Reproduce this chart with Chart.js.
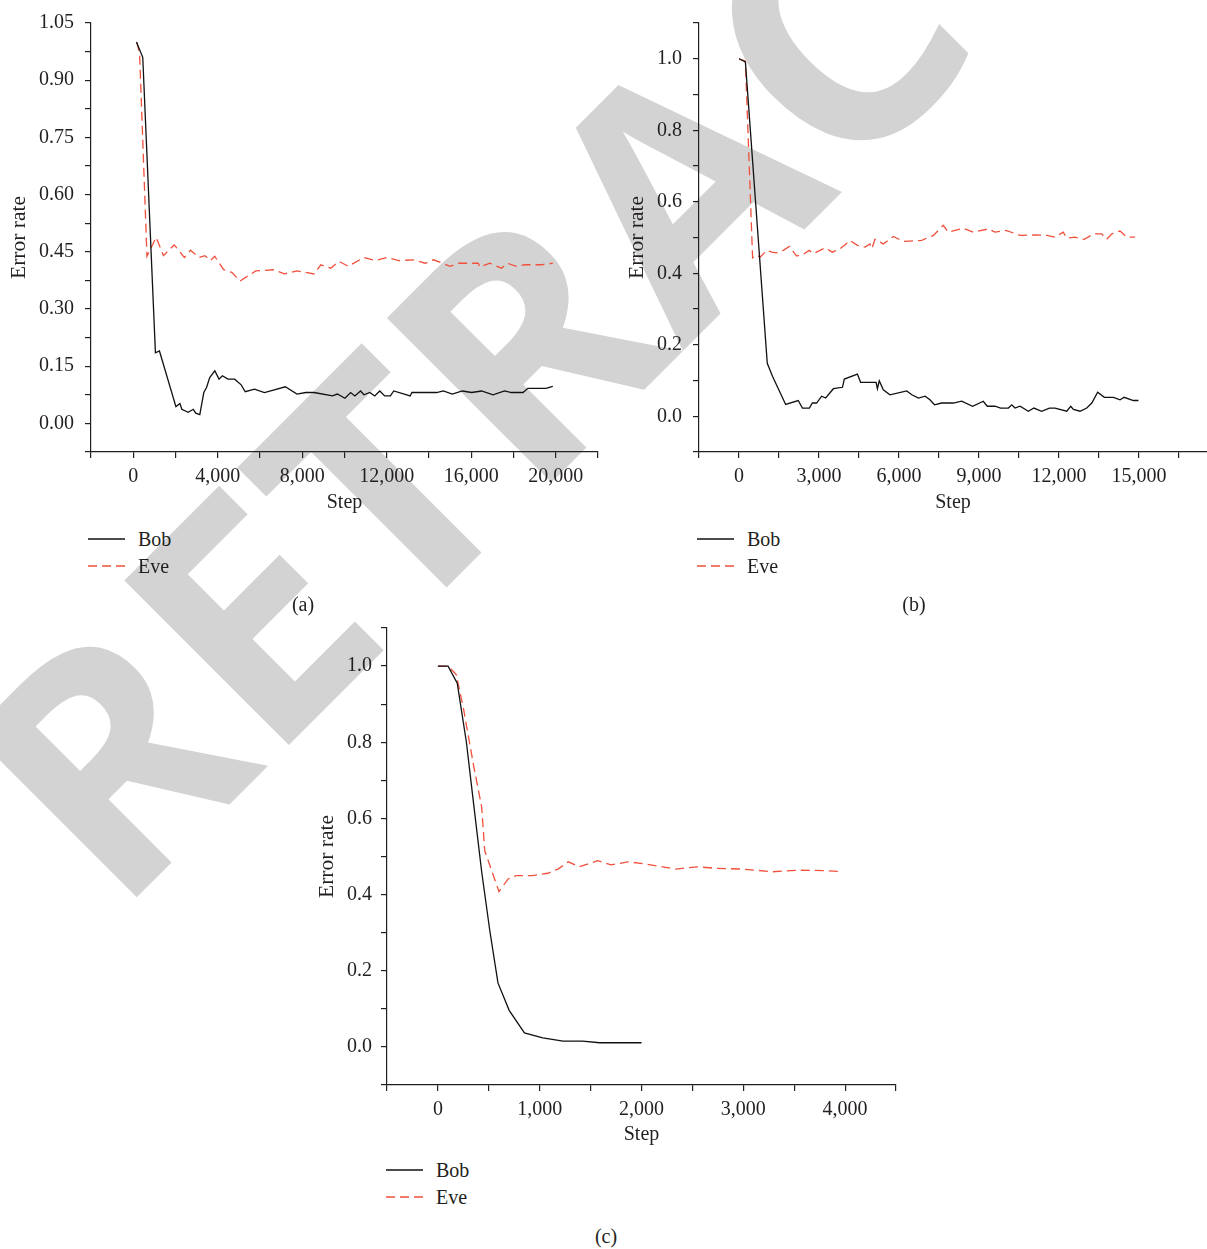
<!DOCTYPE html>
<html>
<head>
<meta charset="utf-8">
<script src="https://cdn.jsdelivr.net/npm/chart.js@4.4.1/dist/chart.umd.min.js"></script>
<style>
  html, body { margin: 0; padding: 0; background: #fff; }
  body { width: 1207px; height: 1249px; position: relative; overflow: hidden;
         font-family: 'Liberation Serif', serif; color: #231f20; }
  #mark { position: absolute; left: 0; top: 0; z-index: 0; }
  canvas { position: absolute; z-index: 1; }
  .legend { position: absolute; z-index: 2; font-size: 20px; }
  .legend div { position: absolute; left: 0; height: 26px; line-height: 26px;
                display: flex; align-items: center; white-space: nowrap; }
  .cap { position: absolute; z-index: 2; font-size: 20px; transform: translate(-50%, -50%); }
</style>
</head>
<body>
<svg id="mark" width="1207" height="1249">
  <text x="116" y="918" transform="rotate(-45 116 918)" font-family="'Open Sans', 'Liberation Sans', sans-serif"
        font-weight="700" font-size="326" fill="#d3d3d3">RETRACTED</text>
</svg>

<canvas id="chartA" width="610" height="515" style="left:0;top:0"></canvas>
<canvas id="chartB" width="597" height="515" style="left:610px;top:0"></canvas>
<canvas id="chartC" width="603" height="547" style="left:300px;top:600px"></canvas>

<div class="cap" style="left:303px;top:604px">(a)</div>
<div class="cap" style="left:914px;top:604px">(b)</div>
<div class="cap" style="left:606px;top:1236px">(c)</div>

<script>
// (a) 20,000 steps
const bobStepA = [150, 450, 1050, 1240, 2020, 2210, 2300, 2600, 2840, 2960, 3150, 3340, 3470, 3620, 3860, 4060,
  4220, 4480, 4800, 5110, 5300, 5740, 6210, 7200, 7750, 8170, 8560, 9430, 9660, 10020, 10290, 10490, 10760,
  10920, 11200, 11430, 11670, 11900, 12170, 12330, 13110, 13190, 14360, 14680, 15100, 15580, 16020, 16490,
  17030, 17580, 17900, 18450, 18680, 19540, 19860];
const bobRateA = [1.0, 0.96, 0.185, 0.19, 0.044, 0.052, 0.037, 0.029, 0.037, 0.027, 0.023, 0.081, 0.094, 0.12,
  0.138, 0.116, 0.125, 0.116, 0.116, 0.101, 0.083, 0.09, 0.081, 0.096, 0.077, 0.081, 0.081, 0.072, 0.077, 0.066,
  0.081, 0.072, 0.085, 0.075, 0.081, 0.072, 0.085, 0.072, 0.072, 0.085, 0.072, 0.081, 0.081, 0.085, 0.077,
  0.085, 0.081, 0.085, 0.075, 0.085, 0.081, 0.081, 0.092, 0.092, 0.097];
const eveStepA = [170, 300, 650, 1080, 1430, 1940, 2420, 2710, 3120, 3390, 3650, 3860, 4280, 4670, 5050, 5800,
  6680, 7150, 7750, 8560, 8880, 9350, 9740, 10180, 10920, 11470, 12020, 12570, 13270, 13820, 14210, 14640,
  15000, 15390, 16330, 16410, 16880, 17430, 17710, 18130, 18530, 19310, 19860];
const eveRateA = [1.0, 0.97, 0.438, 0.488, 0.44, 0.468, 0.435, 0.454, 0.435, 0.44, 0.427, 0.438, 0.403, 0.396,
  0.373, 0.4, 0.403, 0.392, 0.4, 0.392, 0.416, 0.407, 0.425, 0.412, 0.435, 0.427, 0.435, 0.427, 0.429, 0.42,
  0.429, 0.42, 0.412, 0.42, 0.42, 0.41, 0.42, 0.407, 0.42, 0.412, 0.416, 0.416, 0.42];
const xTicksA = [-2000, 0, 2000, 4000, 6000, 8000, 10000, 12000, 14000, 16000, 18000, 20000, 22000];
const xLabelsA = ['', '0', '', '4,000', '', '8,000', '', '12,000', '', '16,000', '', '20,000', ''];
const yTicksA = [-0.075, 0, 0.075, 0.15, 0.225, 0.3, 0.375, 0.45, 0.525, 0.6, 0.675, 0.75, 0.825, 0.9, 0.975, 1.05];
const yLabelsA = ['', '0.00', '', '0.15', '', '0.30', '', '0.45', '', '0.60', '', '0.75', '', '0.90', '', '1.05'];

// (b) 15,000 steps
const bobStepB = [0, 240, 1060, 1260, 1750, 2220, 2380, 2640, 2750, 2910, 3100, 3250, 3540, 3880, 3950, 4440,
  4560, 5140, 5190, 5260, 5410, 5660, 6290, 6480, 6730, 6980, 7160, 7330, 7600, 8040, 8350, 8760, 9160, 9310,
  9600, 9810, 10100, 10230, 10350, 10540, 10850, 11060, 11350, 11640, 11850, 12290, 12440, 12540, 12790,
  13040, 13230, 13450, 13700, 14040, 14290, 14440, 14790, 14980];
const bobRateB = [1.0, 0.991, 0.148, 0.111, 0.033, 0.044, 0.023, 0.023, 0.037, 0.037, 0.056, 0.051, 0.077,
  0.081, 0.104, 0.118, 0.095, 0.095, 0.077, 0.099, 0.074, 0.06, 0.071, 0.06, 0.051, 0.056, 0.046, 0.032, 0.037,
  0.037, 0.042, 0.028, 0.042, 0.028, 0.028, 0.023, 0.023, 0.032, 0.023, 0.028, 0.014, 0.023, 0.014, 0.023,
  0.023, 0.014, 0.028, 0.019, 0.014, 0.023, 0.037, 0.067, 0.053, 0.053, 0.046, 0.053, 0.044, 0.044];
const eveStepB = [0, 240, 510, 660, 790, 1040, 1230, 1410, 1660, 1890, 2160, 2410, 2630, 2790, 3040, 3230,
  3500, 3790, 3980, 4160, 4440, 4730, 4910, 4980, 5100, 5410, 5790, 6160, 6850, 7290, 7660, 7850, 8410, 8790,
  9350, 9600, 10010, 10540, 11040, 11540, 11850, 12160, 12290, 12600, 12950, 13290, 13600, 13790, 13980,
  14290, 14540, 14850];
const eveRateB = [1.0, 0.993, 0.443, 0.45, 0.445, 0.464, 0.459, 0.457, 0.464, 0.475, 0.448, 0.453, 0.464,
  0.455, 0.464, 0.471, 0.459, 0.469, 0.48, 0.492, 0.478, 0.473, 0.482, 0.469, 0.495, 0.482, 0.503, 0.489,
  0.492, 0.506, 0.534, 0.515, 0.526, 0.515, 0.524, 0.515, 0.52, 0.506, 0.507, 0.506, 0.501, 0.515, 0.498,
  0.501, 0.495, 0.51, 0.51, 0.495, 0.51, 0.518, 0.501, 0.501];
const xTicksB = [-1500, 0, 1500, 3000, 4500, 6000, 7500, 9000, 10500, 12000, 13500, 15000, 16500];
const xLabelsB = ['', '0', '', '3,000', '', '6,000', '', '9,000', '', '12,000', '', '15,000', ''];
const yTicksB = [-0.1, 0, 0.1, 0.2, 0.3, 0.4, 0.5, 0.6, 0.7, 0.8, 0.9, 1.0, 1.1];
const yLabelsB = ['', '0.0', '', '0.2', '', '0.4', '', '0.6', '', '0.8', '', '1.0', ''];

// (c) 4,000 steps
const bobStepC = [0, 100, 190, 280, 350, 430, 510, 590, 700, 850, 1030, 1230, 1420, 1590, 2000];
const bobRateC = [1.0, 1.0, 0.955, 0.8, 0.64, 0.46, 0.305, 0.168, 0.096, 0.037, 0.024, 0.015, 0.015, 0.011, 0.011];
const eveStepC = [0, 100, 180, 250, 350, 430, 460, 600, 690, 770, 930, 1080, 1180, 1280, 1390, 1570, 1700,
  1870, 2050, 2340, 2550, 2730, 2990, 3290, 3470, 3550, 3790, 3970];
const eveRateC = [1.0, 1.0, 0.978, 0.89, 0.74, 0.63, 0.515, 0.408, 0.441, 0.45, 0.45, 0.456, 0.467, 0.486,
  0.473, 0.489, 0.478, 0.486, 0.48, 0.467, 0.473, 0.469, 0.467, 0.46, 0.463, 0.464, 0.463, 0.46];
const xTicksC = [-500, 0, 500, 1000, 1500, 2000, 2500, 3000, 3500, 4000, 4500];
const xLabelsC = ['', '0', '', '1,000', '', '2,000', '', '3,000', '', '4,000', ''];

const ink = '#231f20';
const font = { family: "'Liberation Serif', serif", size: 20 };
const yTitleFont = { family: "'Liberation Serif', serif", size: 21.5 };

function toPoints(steps, rates) {
  return steps.map((s, i) => ({ x: s, y: rates[i] }));
}

function makeChart(id, d) {
  return new Chart(document.getElementById(id), {
    type: 'line',
    data: {
      datasets: [
        { label: 'Bob', data: toPoints(d.bobStep, d.bobRate), borderColor: '#111111', borderWidth: 1.3,
          pointRadius: 0, tension: 0, fill: false },
        { label: 'Eve', data: toPoints(d.eveStep, d.eveRate), borderColor: '#f0503c', borderWidth: 1.3,
          borderDash: [9, 5], pointRadius: 0, tension: 0, fill: false }
      ]
    },
    options: {
      responsive: false,
      animation: false,
      layout: { padding: d.pad },
      plugins: { legend: { display: false }, tooltip: { enabled: false } },
      scales: {
        x: {
          type: 'linear', min: d.xMin, max: d.xMax,
          afterFit: s => { s.height = d.xAxisH; },
          afterBuildTicks: s => { s.ticks = d.xTicks.map(v => ({ value: v })); },
          ticks: { autoSkip: false, maxRotation: 0, minRotation: 0, padding: 7, color: ink, font,
                   callback: (v, i) => d.xLabels[i] },
          grid: { drawOnChartArea: false, drawTicks: true, tickLength: 6, color: ink, lineWidth: 1.2 },
          border: { display: true, color: ink, width: 1.2 },
          title: { display: true, text: 'Step', color: ink, font, padding: 0 }
        },
        y: {
          type: 'linear', min: d.yMin, max: d.yMax,
          afterFit: s => { s.width = d.yAxisW; },
          afterBuildTicks: s => { s.ticks = d.yTicks.map(v => ({ value: v })); },
          ticks: { autoSkip: false, padding: d.yPad, color: ink, font,
                   callback: (v, i) => d.yLabels[i] },
          grid: { drawOnChartArea: false, drawTicks: true, tickLength: 6, color: ink, lineWidth: 1.2 },
          border: { display: true, color: ink, width: 1.2 },
          title: { display: true, text: 'Error rate', color: ink, font: yTitleFont,
                   padding: { top: d.titlePad, bottom: 0 } }
        }
      }
    }
  });
}

function addLegend(chart, left, top) {
  const box = document.createElement('div');
  box.className = 'legend';
  box.style.left = left + 'px';
  box.style.top = top + 'px';
  chart.data.datasets.forEach((ds, i) => {
    const row = document.createElement('div');
    row.style.top = (i * 26.5) + 'px';
    const dash = ds.borderDash ? 'stroke-dasharray="9 5"' : '';
    row.innerHTML = '<svg width="37" height="4"><line x1="0" y1="2" x2="37" y2="2" stroke="' + ds.borderColor +
      '" stroke-width="1.4" ' + dash + '/></svg><span style="margin-left:13px">' + ds.label + '</span>';
    box.appendChild(row);
  });
  document.body.appendChild(box);
}

const chartA = makeChart('chartA', {
  bobStep: bobStepA, bobRate: bobRateA, eveStep: eveStepA, eveRate: eveRateA,
  xMin: -2000, xMax: 22000, xTicks: xTicksA, xLabels: xLabelsA,
  yMin: -0.075, yMax: 1.05, yTicks: yTicksA, yLabels: yLabelsA,
  pad: { left: 0, top: 18, right: 12, bottom: 0 }, xAxisH: 63, yAxisW: 91, yPad: 11, titlePad: 6
});
const chartB = makeChart('chartB', {
  bobStep: bobStepB, bobRate: bobRateB, eveStep: eveStepB, eveRate: eveRateB,
  xMin: -1500, xMax: 17550, xTicks: xTicksB, xLabels: xLabelsB,
  yMin: -0.1, yMax: 1.1, yTicks: yTicksB, yLabels: yLabelsB,
  pad: { left: 0, top: 19, right: 0, bottom: 0 }, xAxisH: 63, yAxisW: 89, yPad: 11, titlePad: 14
});
const chartC = makeChart('chartC', {
  bobStep: bobStepC, bobRate: bobRateC, eveStep: eveStepC, eveRate: eveRateC,
  xMin: -500, xMax: 4500, xTicks: xTicksC, xLabels: xLabelsC,
  yMin: -0.1, yMax: 1.1, yTicks: yTicksB, yLabels: yLabelsB,
  pad: { left: 0, top: 28, right: 4, bottom: 0 }, xAxisH: 62, yAxisW: 87, yPad: 9, titlePad: 14
});

addLegend(chartA, 88, 526);
addLegend(chartB, 697, 526);
addLegend(chartC, 386, 1157);
</script>
</body>
</html>
